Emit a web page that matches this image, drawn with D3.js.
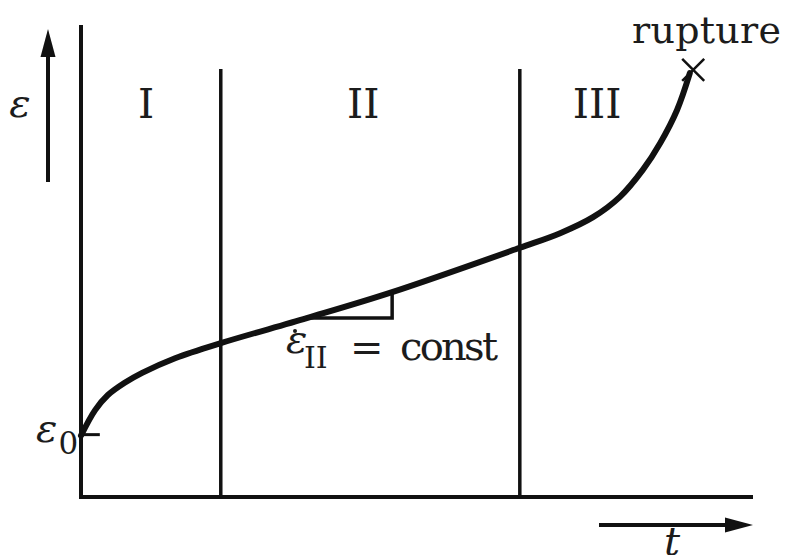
<!DOCTYPE html>
<html>
<head>
<meta charset="utf-8">
<script src="https://cdn.jsdelivr.net/npm/d3@7"></script>
<style>
  html, body { margin: 0; padding: 0; background: #fff; }
</style>
</head>
<body>
<svg id="chart" width="786" height="555"></svg>
<script>
// Creep curve: strain vs. time (arbitrary units, 0-100 on both axes)
const creepTime   = [0, 2.1, 4.0, 6.5, 9.1, 14.0, 20.8, 33.6, 46.3, 65.3, 71.3, 76.2, 80.2, 83.6, 86.2, 88.7, 90.6];
const creepStrain = [13, 18.4, 21.6, 24.2, 26.3, 29.4, 32.6, 37.9, 43.4, 52.8, 55.9, 59.3, 63.6, 69.3, 75.0, 82.0, 89.8];

// Stage boundaries (primary | secondary | tertiary)
const stageBounds = [20.8, 65.3];
const stageTop = 90.7;
const stageLabels = ["I", "II", "III"];
const stageLabelTime = [9.7, 42.0, 76.8];

const initialStrain = 13;          // ε0
const rupturePoint = [91.1, 90.5]; // t, ε at rupture
const slopeIdx = [7, 8];           // curve points spanning the slope triangle

const FONT = "'DejaVu Serif', serif";
const TEXT = "#1c1c1c";

const svg = d3.select("#chart");
const x = d3.scaleLinear().domain([0, 100]).range([81, 753]);
const y = d3.scaleLinear().domain([0, 100]).range([497, 25]);

const ink = "#111";

function label(sel, size, italic) {
  return sel.append("text")
    .style("font-family", FONT)
    .style("font-size", size + "px")
    .style("font-style", italic ? "italic" : "normal")
    .style("fill", TEXT);
}

// Axes
svg.append("line")
  .attr("x1", x(0)).attr("x2", x(0))
  .attr("y1", y(0) + 2).attr("y2", y(100))
  .attr("stroke", ink).attr("stroke-width", 4);
svg.append("line")
  .attr("x1", x(0) - 2).attr("x2", x(100))
  .attr("y1", y(0)).attr("y2", y(0))
  .attr("stroke", ink).attr("stroke-width", 4);

// Stage separators
svg.selectAll("line.stage").data(stageBounds).join("line")
  .attr("class", "stage")
  .attr("x1", d => x(d)).attr("x2", d => x(d))
  .attr("y1", y(0)).attr("y2", y(stageTop))
  .attr("stroke", ink).attr("stroke-width", 3.5);

// Stage labels
stageLabels.forEach((s, i) => {
  label(svg, 41, false)
    .attr("x", x(stageLabelTime[i]))
    .attr("y", y(80.4))
    .attr("text-anchor", "middle")
    .text(s);
});

// ε0 tick
svg.append("line")
  .attr("x1", x(0)).attr("x2", x(2.8))
  .attr("y1", y(initialStrain) - 1).attr("y2", y(initialStrain) - 1)
  .attr("stroke", ink).attr("stroke-width", 3);

// Creep curve
const pts = creepTime.map((t, i) => [t, creepStrain[i]]);
const line = d3.line().x(d => x(d[0])).y(d => y(d[1])).curve(d3.curveCatmullRom.alpha(0.5));
svg.append("path")
  .attr("d", line(pts))
  .attr("fill", "none")
  .attr("stroke", ink)
  .attr("stroke-width", 6)
  .attr("stroke-linecap", "round");

// Slope triangle in the secondary stage
const a = pts[slopeIdx[0]], b = pts[slopeIdx[1]];
svg.append("path")
  .attr("d", `M${x(a[0])},${y(a[1])} L${x(b[0])},${y(a[1])} L${x(b[0])},${y(b[1])}`)
  .attr("fill", "none")
  .attr("stroke", ink)
  .attr("stroke-width", 3.5);

// Rupture mark
const rx = x(rupturePoint[0]), ry = y(rupturePoint[1]);
const r = 11;
svg.append("path")
  .attr("d", `M${rx - r},${ry - r} L${rx + r},${ry + r} M${rx + r},${ry - r} L${rx - r},${ry + r}`)
  .attr("stroke", ink).attr("stroke-width", 2.5).attr("fill", "none");
label(svg, 38, false)
  .attr("x", 632).attr("y", 43)
  .attr("textLength", 149)
  .text("rupture");

// Strain arrow and label
svg.append("line")
  .attr("x1", 48).attr("x2", 48)
  .attr("y1", 182).attr("y2", 52)
  .attr("stroke", ink).attr("stroke-width", 4);
svg.append("path")
  .attr("d", "M48,29 L55.5,57 L40.5,57 Z")
  .attr("fill", ink);
label(svg, 40, true)
  .attr("x", 20).attr("y", 117)
  .attr("text-anchor", "middle")
  .text("ε");

// ε0 label
const e0 = label(svg, 40, true)
  .attr("x", 36).attr("y", y(initialStrain) + 6);
e0.append("tspan").text("ε");
e0.append("tspan").style("font-style", "normal").style("font-size", "31px")
  .attr("dy", 12).attr("dx", 1).text("0");

// Time arrow and label
svg.append("line")
  .attr("x1", 599).attr("x2", 730)
  .attr("y1", 525).attr("y2", 525)
  .attr("stroke", ink).attr("stroke-width", 4);
svg.append("path")
  .attr("d", "M753,525 L725,517.5 L725,532.5 Z")
  .attr("fill", ink);
label(svg, 40, true)
  .attr("x", 672).attr("y", 555)
  .attr("text-anchor", "middle")
  .text("t");

// Secondary creep rate annotation
label(svg, 40, true)
  .attr("x", 286).attr("y", 353)
  .text("ε");
svg.append("circle")
  .attr("cx", 295).attr("cy", 331).attr("r", 2)
  .attr("fill", TEXT);
label(svg, 30, false)
  .attr("x", 304).attr("y", 368)
  .text("II");
label(svg, 40, false)
  .attr("x", 350).attr("y", 361)
  .text("=");
label(svg, 40, false)
  .attr("x", 400).attr("y", 360)
  .attr("textLength", 98)
  .text("const");
</script>
</body>
</html>
